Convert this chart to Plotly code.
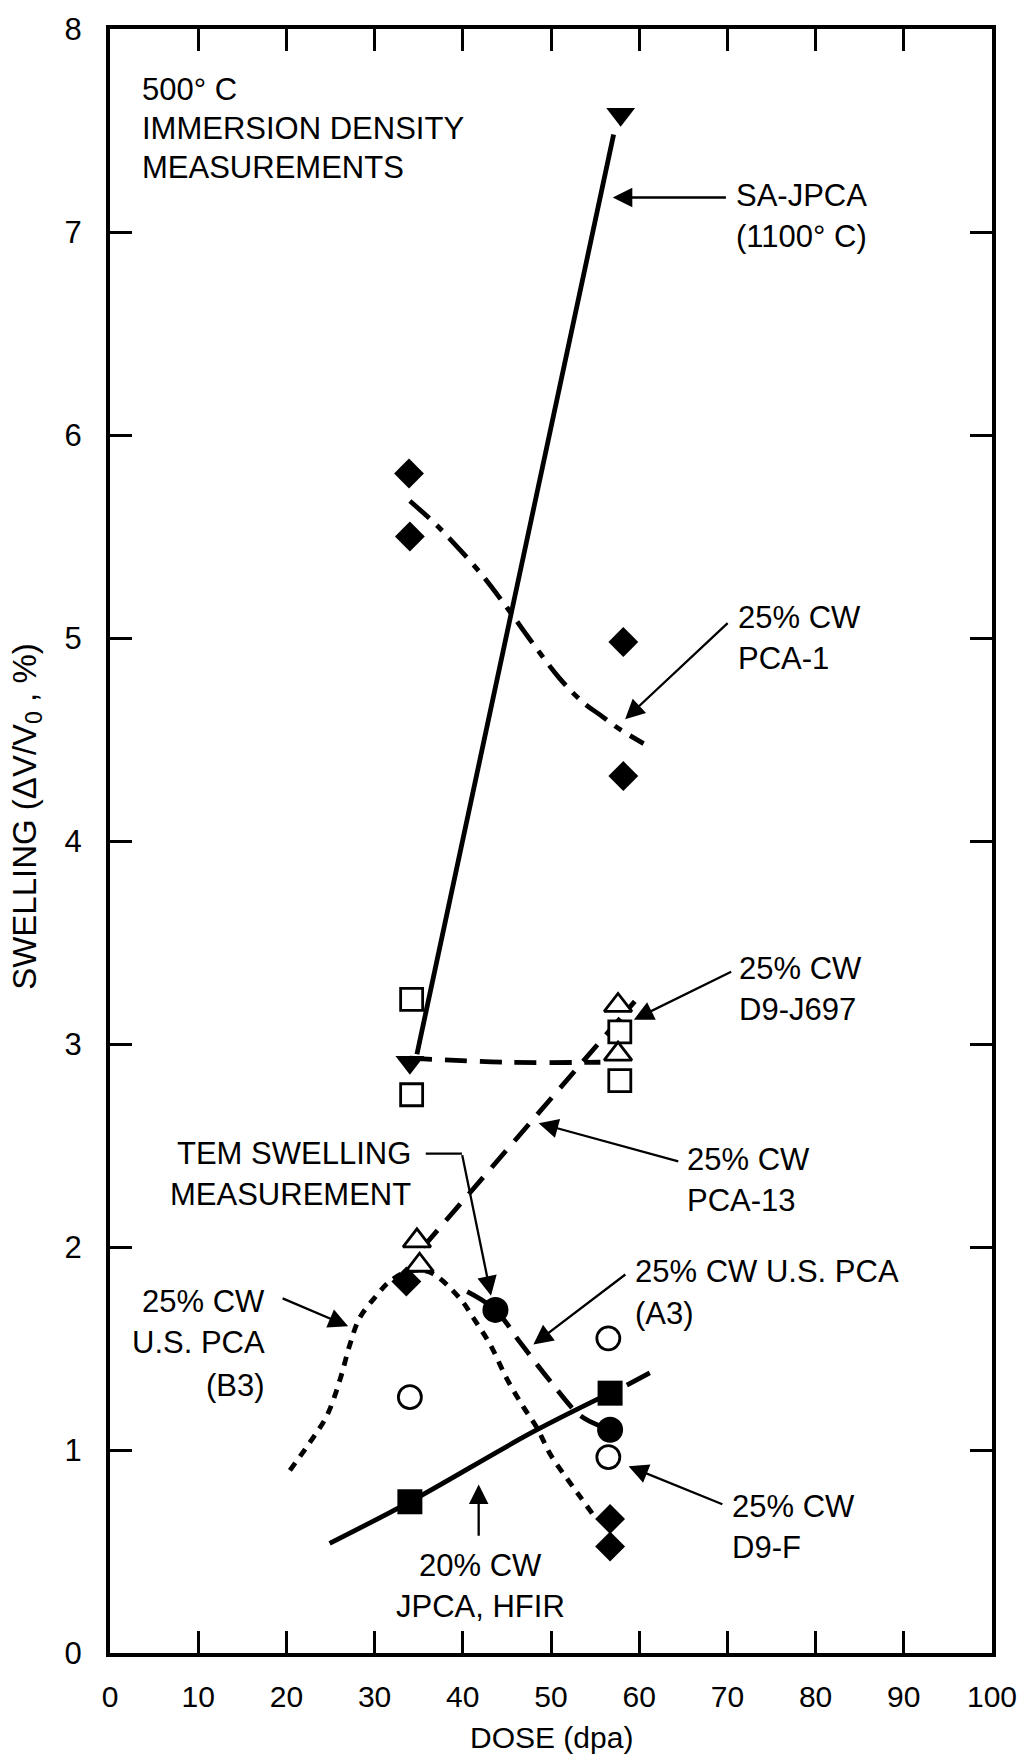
import plotly.graph_objects as go

# ---------------------------------------------------------------------------
# Data: swelling (dV/V0, %) versus dose (dpa), 500 C immersion density
# ---------------------------------------------------------------------------
DOSE_TICKS = [0, 10, 20, 30, 40, 50, 60, 70, 80, 90, 100]
SWELL_TICKS = [0, 1, 2, 3, 4, 5, 6, 7, 8]

# SA-JPCA (1100 C) - filled down-triangles, solid line
SA_JPCA_DOSE = [34.0, 57.9]
SA_JPCA_SWELL = [2.91, 7.58]
SA_JPCA_FIT_DOSE = [34.8, 57.1]
SA_JPCA_FIT_SWELL = [2.95, 7.48]

# 25% CW PCA-1 - filled diamonds, dash-dot curve
PCA1_DOSE = [33.9, 34.0, 58.2, 58.2]
PCA1_SWELL = [5.81, 5.50, 4.98, 4.32]
PCA1_FIT_DOSE = [34.0, 36.7, 38.5, 42.0, 45.0, 48.0, 51.0, 53.7, 55.6, 57.8, 60.5]
PCA1_FIT_SWELL = [5.675, 5.57, 5.49, 5.32, 5.15, 4.97, 4.80, 4.68, 4.62, 4.55, 4.48]

# 25% CW D9-J697 - open squares, dashed line
D9J_DOSE = [34.2, 34.2, 57.8, 57.8]
D9J_SWELL = [3.22, 2.75, 3.06, 2.82]
D9J_FIT_DOSE = [34.0, 45.0, 55.6]
D9J_FIT_SWELL = [2.93, 2.91, 2.91]

# 25% CW PCA-13 - open up-triangles, dashed line
PCA13_DOSE = [34.8, 35.1, 57.6, 57.6]
PCA13_SWELL = [2.03, 1.91, 3.19, 2.95]
PCA13_FIT_DOSE = [35.5, 59.5]
PCA13_FIT_SWELL = [2.00, 3.21]

# 25% CW U.S. PCA (A3) - filled circles, dashed curve (TEM point at 43.7 dpa)
A3_DOSE = [43.7, 56.7]
A3_SWELL = [1.69, 1.10]
A3_FIT_DOSE = [40.5, 43.7, 46.5, 49.9, 53.3, 55.5]
A3_FIT_SWELL = [1.78, 1.69, 1.53, 1.34, 1.17, 1.12]

# 25% CW U.S. PCA (B3) - filled diamonds, dotted curve
B3_DOSE = [33.6, 56.7, 56.7]
B3_SWELL = [1.83, 0.66, 0.525]
B3_FIT_DOSE = [20.4, 22.7, 24.6, 26.1, 27.2, 28.3, 30.2, 31.7, 33.8, 36.3,
               39.7, 41.2, 43.1, 45.0, 46.9, 48.4, 49.9, 51.8, 53.3, 54.8]
B3_FIT_SWELL = [0.90, 1.04, 1.17, 1.35, 1.52, 1.65, 1.76, 1.83, 1.88, 1.875,
                1.745, 1.65, 1.52, 1.35, 1.21, 1.11, 0.98, 0.86, 0.77, 0.68]

# 25% CW D9-F - open circles
D9F_DOSE = [34.0, 56.5, 56.5]
D9F_SWELL = [1.26, 1.55, 0.965]

# 20% CW JPCA, HFIR - filled squares, solid line with short extension
JPCA_DOSE = [34.0, 56.7]
JPCA_SWELL = [0.745, 1.28]
JPCA_FIT_DOSE = [24.9, 34.0, 48.0, 56.7]
JPCA_FIT_SWELL = [0.54, 0.745, 1.09, 1.28]
JPCA_EXT_DOSE = [58.6, 61.2]
JPCA_EXT_SWELL = [1.32, 1.38]

# ---------------------------------------------------------------------------
FONT = "Liberation Sans, Arial, Helvetica, sans-serif"
INK = "black"
LW = 4.8

fig = go.Figure()


def curve(xs, ys, dash="solid", shape="linear"):
    fig.add_trace(go.Scatter(
        x=xs, y=ys, mode="lines",
        line=dict(color=INK, width=LW, dash=dash, shape=shape),
        hoverinfo="skip", showlegend=False))


def points(xs, ys, symbol, size, open_=False):
    fig.add_trace(go.Scatter(
        x=xs, y=ys, mode="markers",
        marker=dict(symbol=symbol, size=size,
                    color="white" if open_ else INK,
                    line=dict(color=INK, width=2.8 if open_ else 0)),
        hoverinfo="skip", showlegend=False))


# fitted / guide lines
curve(SA_JPCA_FIT_DOSE, SA_JPCA_FIT_SWELL)
curve(PCA1_FIT_DOSE, PCA1_FIT_SWELL, dash="26px,10px,8px,10px", shape="spline")
curve(D9J_FIT_DOSE, D9J_FIT_SWELL, dash="22px,13px", shape="spline")
curve(PCA13_FIT_DOSE, PCA13_FIT_SWELL, dash="22px,13px")
curve(A3_FIT_DOSE, A3_FIT_SWELL, dash="22px,12px", shape="spline")
curve(B3_FIT_DOSE, B3_FIT_SWELL, dash="9px,8px", shape="spline")
curve(JPCA_FIT_DOSE, JPCA_FIT_SWELL, shape="spline")
curve(JPCA_EXT_DOSE, JPCA_EXT_SWELL)

# measured points
points(SA_JPCA_DOSE, SA_JPCA_SWELL, "triangle-down", 25)
points(PCA1_DOSE, PCA1_SWELL, "diamond", 23)
points(D9J_DOSE, D9J_SWELL, "square", 22, open_=True)
points(PCA13_DOSE, PCA13_SWELL, "triangle-up", 24, open_=True)
points(A3_DOSE, A3_SWELL, "circle", 26)
points(B3_DOSE, B3_SWELL, "diamond", 23)
points(D9F_DOSE, D9F_SWELL, "circle", 23, open_=True)
points(JPCA_DOSE, JPCA_SWELL, "square", 25)

# ---------------------------------------------------------------------------
# Text labels (one annotation per line)
LABEL_SIZE = 31
labels = [
    ("500° C", 3.4, 7.70, "left"),
    ("IMMERSION DENSITY", 3.4, 7.51, "left"),
    ("MEASUREMENTS", 3.4, 7.32, "left"),
    ("SA-JPCA", 70.8, 7.18, "left"),
    ("(1100° C)", 70.8, 6.98, "left"),
    ("25% CW", 71.0, 5.10, "left"),
    ("PCA-1", 71.0, 4.90, "left"),
    ("25% CW", 71.1, 3.37, "left"),
    ("D9-J697", 71.1, 3.17, "left"),
    ("25% CW", 65.2, 2.43, "left"),
    ("PCA-13", 65.2, 2.23, "left"),
    ("TEM SWELLING", 34.3, 2.46, "right"),
    ("MEASUREMENT", 34.3, 2.26, "right"),
    ("25% CW U.S. PCA", 59.3, 1.88, "left"),
    ("(A3)", 59.3, 1.67, "left"),
    ("25% CW", 17.8, 1.73, "right"),
    ("U.S. PCA", 17.8, 1.53, "right"),
    ("(B3)", 17.8, 1.32, "right"),
    ("20% CW", 42.0, 0.43, "center"),
    ("JPCA, HFIR", 42.0, 0.23, "center"),
    ("25% CW", 70.3, 0.72, "left"),
    ("D9-F", 70.3, 0.52, "left"),
]
for text, x, y, anchor in labels:
    fig.add_annotation(x=x, y=y, xref="x", yref="y", text=text,
                       showarrow=False, xanchor=anchor, yanchor="middle",
                       font=dict(family=FONT, size=LABEL_SIZE, color=INK))

# Leader arrows: (head x, head y, tail x, tail y)
arrows = [
    (57.0, 7.17, 70.0, 7.17),
    (58.4, 4.60, 70.2, 5.08),
    (59.4, 3.12, 70.6, 3.36),
    (48.6, 2.61, 64.6, 2.42),
    (48.0, 1.52, 58.6, 1.87),
    (27.0, 1.61, 19.4, 1.75),
    (41.8, 0.83, 41.8, 0.57),
    (58.8, 0.92, 69.6, 0.73),
    (43.2, 1.76, 39.9, 2.46),
]
for hx, hy, tx, ty in arrows:
    fig.add_annotation(x=hx, y=hy, ax=tx, ay=ty, xref="x", yref="y",
                       axref="x", ayref="y", text="", showarrow=True,
                       arrowhead=2, arrowsize=1.7, arrowwidth=2.3,
                       arrowcolor=INK, standoff=0, startstandoff=0)

# horizontal leg of the bent TEM leader
fig.add_shape(type="line", xref="x", yref="y", x0=35.8, y0=2.46, x1=39.9, y1=2.46,
              line=dict(color=INK, width=2.3))

# Axis titles
fig.add_annotation(x=0.5, y=-0.052, xref="paper", yref="paper",
                   text="DOSE (dpa)", showarrow=False,
                   xanchor="center", yanchor="middle",
                   font=dict(family=FONT, size=30, color=INK))
fig.add_annotation(x=-0.095, y=0.515, xref="paper", yref="paper",
                   text="SWELLING (ΔV/V<sub>0</sub> , %)", showarrow=False,
                   textangle=-90, xanchor="center", yanchor="middle",
                   font=dict(family=FONT, size=33, color=INK))

axis_common = dict(
    showgrid=False, zeroline=False, showline=True, linewidth=4,
    linecolor=INK, mirror="ticks", ticks="inside", ticklen=22,
    tickwidth=2.5, tickcolor=INK, ticklabeloverflow="allow",
)

fig.update_layout(
    width=1035, height=1759,
    margin=dict(l=110, r=43, t=16, b=106),
    paper_bgcolor="white", plot_bgcolor="white",
    showlegend=False,
    xaxis=dict(range=[0, 100], tickvals=DOSE_TICKS, ticklabelstandoff=14,
               tickfont=dict(family=FONT, size=30, color=INK),
               **axis_common),
    yaxis=dict(range=[0, 8], tickvals=SWELL_TICKS, ticklabelstandoff=18,
               tickfont=dict(family=FONT, size=31, color=INK),
               **axis_common),
)

fig.write_html("out.html")
